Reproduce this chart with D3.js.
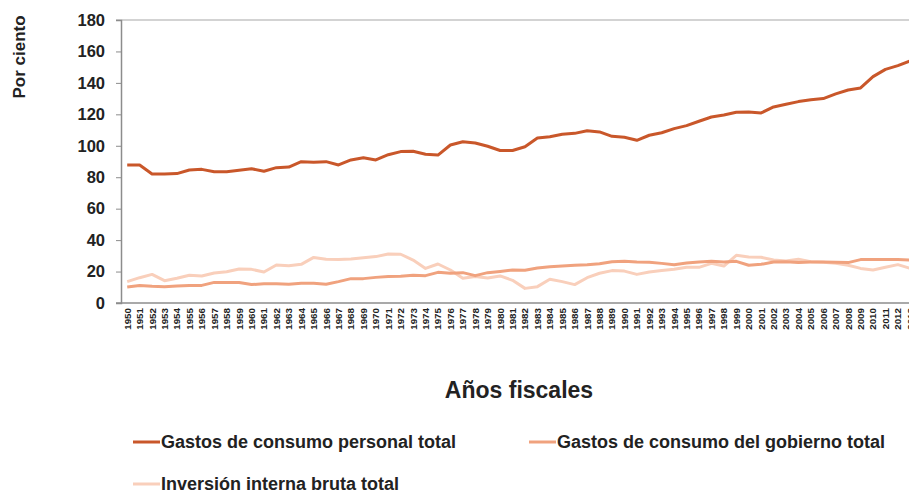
<!DOCTYPE html>
<html>
<head>
<meta charset="utf-8">
<script src="https://cdn.jsdelivr.net/npm/d3@7"></script>
<style>
  body { margin: 0; background: #fff; }
  svg { display: block; font-family: "Liberation Sans", Arial, sans-serif; }
</style>
</head>
<body>
<div id="chart"></div>
<script>
const years = d3.range(1950, 2014).map(String);

const personal = [
  87.8, 87.8, 82.1, 82.0, 82.3, 84.6, 85.0, 83.5, 83.5, 84.4,
  85.4, 83.8, 86.1, 86.5, 89.9, 89.5, 89.9, 87.8, 91.0, 92.4,
  91.0, 94.3, 96.3, 96.5, 94.6, 94.1, 100.5, 102.6, 101.8, 99.7,
  97.0, 97.0, 99.4, 105.0, 105.8, 107.3, 107.9, 109.6, 108.8, 106.0,
  105.4, 103.5, 106.7, 108.3, 110.9, 112.8, 115.6, 118.3, 119.6, 121.3,
  121.5, 120.9, 124.7, 126.4, 128.1, 129.3, 130.0, 133.0, 135.5, 136.8,
  144.0, 148.6, 151.0, 154.0
];

const government = [
  10.2, 11.2, 10.6, 10.4, 10.8, 11.2, 11.2, 13.1, 13.1, 13.0,
  11.7, 12.3, 12.3, 11.9, 12.5, 12.5, 11.9, 13.6, 15.5, 15.5,
  16.3, 16.8, 17.0, 17.6, 17.4, 19.5, 18.9, 19.3, 17.4, 19.3,
  20.1, 21.0, 20.8, 22.3, 23.1, 23.5, 24.0, 24.4, 25.0, 26.3,
  26.5, 26.1, 25.9, 25.2, 24.4, 25.4, 26.1, 26.5, 26.1, 26.5,
  24.0, 24.6, 26.1, 26.3, 25.7, 26.1, 26.1, 25.9, 25.7, 27.6,
  27.6, 27.6, 27.6, 27.4
];

const investment = [
  13.6, 16.1, 18.2, 14.2, 15.7, 17.6, 17.2, 19.1, 19.9, 21.6,
  21.4, 19.7, 24.2, 23.7, 24.6, 29.0, 27.8, 27.6, 28.0, 28.8,
  29.5, 31.2, 31.0, 27.3, 22.0, 24.8, 21.0, 15.7, 16.8, 15.9,
  17.2, 14.4, 9.3, 10.4, 15.1, 13.6, 11.7, 16.1, 18.9, 20.6,
  20.3, 18.2, 19.7, 20.6, 21.4, 22.7, 22.7, 25.2, 23.5, 30.3,
  29.3, 29.1, 27.3, 26.7, 27.8, 26.3, 25.9, 25.2, 24.0, 22.0,
  21.0, 22.7, 24.4, 22.0
];

const yTicks = [0, 20, 40, 60, 80, 100, 120, 140, 160, 180];

const seriesNames = [
  "Gastos de consumo personal total",
  "Gastos de consumo del gobierno total",
  "Inversión interna bruta total"
];

const colors = ["#c9572a", "#f0a27e", "#f9cfbb"];

const width = 909, height = 493;
const plot = { left: 121, top: 20, bottom: 303 };
const bandStep = 12.43;

const svg = d3.select("#chart")
  .append("svg")
  .attr("width", width)
  .attr("height", height);

const x = d3.scaleBand()
  .domain(years)
  .range([plot.left, plot.left + bandStep * years.length])
  .padding(0);

const y = d3.scaleLinear()
  .domain([0, 180])
  .range([plot.bottom, plot.top]);

// top border
svg.append("line")
  .attr("x1", plot.left - 5).attr("x2", width)
  .attr("y1", y(180)).attr("y2", y(180))
  .attr("stroke", "#c4c4c4").attr("stroke-width", 1.5);

// y axis
const yAxis = svg.append("g")
  .attr("transform", `translate(${plot.left},0)`)
  .call(d3.axisLeft(y).tickValues(yTicks).tickSize(5).tickPadding(11));
yAxis.select(".domain").attr("stroke", "#8c8c8c").attr("stroke-width", 1.5);
yAxis.selectAll(".tick line").attr("stroke", "#8c8c8c");
yAxis.selectAll("text")
  .attr("fill", "#222")
  .style("font-size", "16.5px")
  .style("font-weight", "bold");

// x axis
const xAxis = svg.append("g")
  .attr("transform", `translate(0,${plot.bottom})`)
  .call(d3.axisBottom(x).tickSize(0).tickSizeOuter(0));
xAxis.select(".domain").remove();
xAxis.append("line")
  .attr("x1", plot.left - 5).attr("x2", width)
  .attr("stroke", "#8c8c8c").attr("stroke-width", 1.5);
xAxis.selectAll("text")
  .attr("transform", "rotate(-90)")
  .attr("x", -5)
  .attr("y", 0)
  .attr("dy", "0.35em")
  .attr("fill", "#222")
  .style("text-anchor", "end")
  .style("font-size", "9.8px")
  .style("font-weight", "bold");

// axis titles
svg.append("text")
  .attr("transform", "rotate(-90)")
  .attr("x", -57)
  .attr("y", 25)
  .attr("text-anchor", "middle")
  .attr("fill", "#222")
  .style("font-size", "17px")
  .style("font-weight", "bold")
  .text("Por ciento");

svg.append("text")
  .attr("x", 519)
  .attr("y", 398)
  .attr("text-anchor", "middle")
  .attr("fill", "#222")
  .style("font-size", "23px")
  .style("font-weight", "bold")
  .text("Años fiscales");

// lines
const line = d3.line()
  .x((d, i) => x(years[i]) + x.bandwidth() / 2)
  .y(d => y(d));

const allSeries = [personal, government, investment];

svg.selectAll(".series")
  .data(allSeries.slice().reverse())
  .enter()
  .append("path")
  .attr("class", "series")
  .attr("d", d => line(d))
  .attr("fill", "none")
  .attr("stroke", (d, i) => colors[allSeries.length - 1 - i])
  .attr("stroke-width", 3)
  .attr("stroke-linejoin", "round");

// legend
const legendPos = [
  { x: 133, y: 442 },
  { x: 529, y: 442 },
  { x: 133, y: 484 }
];

const legend = svg.selectAll(".legend-item")
  .data(seriesNames)
  .enter()
  .append("g")
  .attr("class", "legend-item")
  .attr("transform", (d, i) => `translate(${legendPos[i].x},${legendPos[i].y})`);

legend.append("line")
  .attr("x1", 0).attr("x2", 27)
  .attr("stroke", (d, i) => colors[i])
  .attr("stroke-width", 3);

legend.append("text")
  .attr("x", 28)
  .attr("dy", "0.35em")
  .attr("fill", "#222")
  .style("font-size", "18px")
  .style("font-weight", "bold")
  .text(d => d);
</script>
</body>
</html>
